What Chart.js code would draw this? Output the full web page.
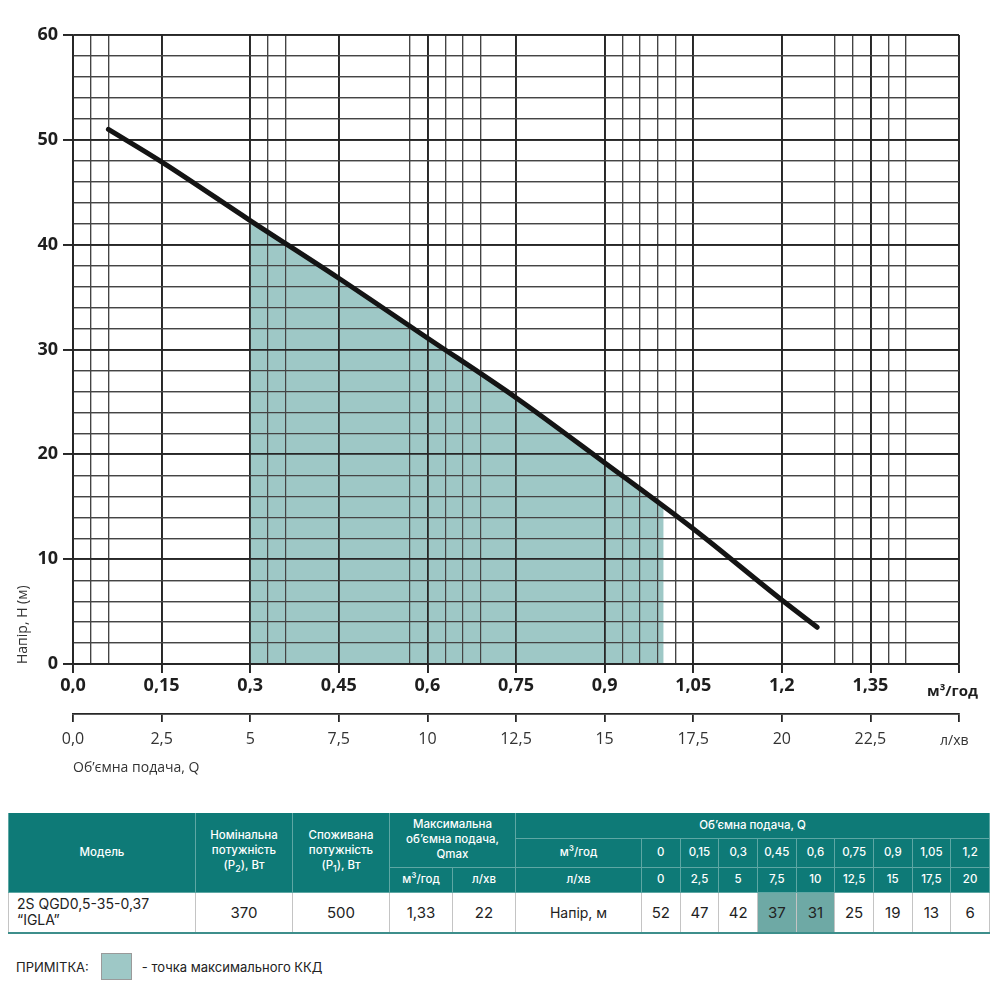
<!DOCTYPE html>
<html lang="uk">
<head>
<meta charset="utf-8">
<title>2S QGD0,5-35-0,37 IGLA</title>
<script src="https://cdn.jsdelivr.net/npm/chart.js@4.4.1/dist/chart.umd.min.js"></script>
<style>
  body { margin: 0; background: #fff; font-family: Inter, "Noto Sans", sans-serif; }
  #wrap { position: absolute; left: 0; top: 0; width: 1000px; height: 790px; }
  #specs {
    position: absolute; left: 8px; top: 813px; width: 982px;
    border-collapse: collapse; table-layout: fixed;
    border-bottom: 2px solid #3d8e8b;
  }
  #specs th {
    background: #0e7a77; color: #fff; font-weight: 500; font-size: 11.5px;
    line-height: 15px; text-align: center; padding: 0;
    border: 1px solid #5ea7a4; border-top: none;
  }
  #specs td {
    font-size: 15px; color: #222; text-align: center; padding: 0;
    border: 1px solid #c4c4c4; border-bottom: none;
  }
  #specs td.model { text-align: left; padding-left: 8px; font-size: 14px; line-height: 16px; }
  #specs td.label { font-size: 14px; }
  #specs td.hl { background: #6ea9a5; }
  #specs sub { font-size: 9px; }
  #note { position: absolute; left: 16px; top: 953px; height: 27px; font-size: 13px; color: #222;
          display: flex; align-items: center; }
  #note .box { width: 31px; height: 27px; background: #9ec8c6; border: 1px solid #9a9a9a;
               margin: 0 10px 0 12px; box-sizing: border-box; }
</style>
</head>
<body>
<div id="wrap"><canvas id="pumpChart"></canvas></div>
<table id="specs"></table>
<div id="note">ПРИМІТКА:<span class="box"></span>- точка максимального ККД</div>
<script>
// Крива напору (м³/год -> м)
const qCurve = [0.06, 0.15, 0.3, 0.45, 0.6, 0.75, 0.9, 1.05, 1.2, 1.26];
const hCurve = [51, 47.9, 42.3, 36.8, 31.1, 25.4, 19.2, 12.9, 6.1, 3.5];

// Зона максимального ККД
const qFill = [0.3, 0.45, 0.6, 0.75, 0.9, 1.0];
const hFill = [42.3, 36.8, 31.1, 25.4, 19.2, 15.0];

// Лінії сітки
const xGrid = [0, 0.03, 0.06, 0.15, 0.3, 0.33, 0.36, 0.45, 0.57, 0.6, 0.63, 0.66, 0.69, 0.75,
  0.9, 0.93, 0.96, 0.99, 1.02, 1.05, 1.2, 1.29, 1.32, 1.35, 1.38, 1.41, 1.5];
const yGrid = [0, 2, 4, 6, 8, 10, 12, 14, 16, 18, 20, 22, 24, 26, 28, 30,
  32, 34, 36, 38, 40, 42, 44, 46, 48, 50, 52, 54, 56, 58, 60];

// Таблиця
const tableM3 = ['0', '0,15', '0,3', '0,45', '0,6', '0,75', '0,9', '1,05', '1,2'];
const tableLmin = ['0', '2,5', '5', '7,5', '10', '12,5', '15', '17,5', '20'];
const tableHead = [52, 47, 42, 37, 31, 25, 19, 13, 6];
const tableBest = [3, 4];

const isMajorX = v => Math.abs(v / 0.15 - Math.round(v / 0.15)) < 1e-6;
const isMajorY = v => v % 10 === 0;
const fmt = v => v === 0 ? '0,0' : String(+v.toFixed(2)).replace('.', ',');
const tickOf = c => (c.tick ? c.tick.value : 0);

// сітку малюємо ще раз поверх заливки
const regrid = {
  id: 'regrid',
  afterDatasetDraw(chart, args) {
    if (args.index === 1) {
      chart.scales.x.drawGrid(chart.chartArea);
      chart.scales.y.drawGrid(chart.chartArea);
    }
  }
};

const units = {
  id: 'units',
  afterDraw(chart) {
    const { ctx, scales: { x, x2 } } = chart;
    ctx.save();
    ctx.textBaseline = 'middle';
    ctx.fillStyle = '#1e1e1e';
    ctx.font = 'bold 15px "Open Sans"';
    ctx.fillText('м³/год', x.right - 32, x.top + 28);
    ctx.fillStyle = '#333';
    ctx.font = '14px "Open Sans"';
    ctx.fillText('л/хв', x2.right - 19, x2.top + 27);
    ctx.restore();
  }
};

const ctx = document.getElementById('pumpChart').getContext('2d');
new Chart(ctx, {
  type: 'scatter',
  data: {
    datasets: [{
      data: qCurve.map((q, i) => ({ x: q, y: hCurve[i] })),
      showLine: true,
      borderColor: '#141414',
      borderWidth: 5,
      borderCapStyle: 'round',
      cubicInterpolationMode: 'monotone',
      pointRadius: 0,
      fill: false,
      order: 1
    }, {
      data: qFill.map((q, i) => ({ x: q, y: hFill[i] })),
      showLine: true,
      borderWidth: 0,
      backgroundColor: '#9ec8c6',
      cubicInterpolationMode: 'monotone',
      pointRadius: 0,
      fill: 'origin',
      order: 2
    }]
  },
  options: {
    responsive: true,
    maintainAspectRatio: false,
    animation: false,
    layout: { padding: { top: 35, right: 41, bottom: 14, left: 15 } },
    plugins: { legend: { display: false }, tooltip: { enabled: false } },
    scales: {
      x: {
        type: 'linear', position: 'bottom', weight: 0, min: 0, max: 1.5,
        afterBuildTicks: s => { s.ticks = xGrid.map(v => ({ value: v })); },
        afterFit: s => { s.height = 50; },
        ticks: {
          autoSkip: false, maxRotation: 0, padding: 2, color: '#1e1e1e',
          font: { family: 'Open Sans', size: 18, weight: 'bold' },
          callback: v => (isMajorX(v) && v < 1.5) ? fmt(v) : ''
        },
        grid: {
          color: c => isMajorX(tickOf(c)) ? '#262626' : '#444',
          lineWidth: c => isMajorX(tickOf(c)) ? 1.8 : 1.2,
          tickLength: 9,
          tickColor: c => isMajorX(tickOf(c)) ? '#262626' : 'rgba(0,0,0,0)'
        },
        border: { display: true, color: '#262626', width: 1.8 }
      },
      x2: {
        type: 'linear', position: 'bottom', weight: 1, min: 0, max: 25,
        afterFit: s => { s.height = 62; },
        ticks: {
          stepSize: 2.5, autoSkip: false, maxRotation: 0, padding: 8, color: '#333',
          font: { family: 'Open Sans', size: 16 },
          callback: v => v < 25 ? fmt(v) : ''
        },
        grid: { drawOnChartArea: false, tickLength: 8, color: '#262626', lineWidth: 1.8 },
        border: { display: true, color: '#262626', width: 1.8 },
        title: {
          display: true, text: 'Об’ємна подача, Q', align: 'start', color: '#333',
          font: { family: 'Open Sans', size: 14 }, padding: { top: 0, bottom: 0 }
        }
      },
      y: {
        type: 'linear', min: 0, max: 60,
        afterBuildTicks: s => { s.ticks = yGrid.map(v => ({ value: v })); },
        afterFit: s => { s.width = 58; },
        ticks: {
          autoSkip: false, padding: 5, color: '#1e1e1e',
          font: { family: 'Open Sans', size: 18, weight: 'bold' },
          callback: v => isMajorY(v) ? String(v) : ''
        },
        grid: {
          color: c => isMajorY(tickOf(c)) ? '#262626' : '#444',
          lineWidth: c => isMajorY(tickOf(c)) ? 1.8 : 1.2,
          tickLength: 10,
          tickColor: c => isMajorY(tickOf(c)) ? '#262626' : 'rgba(0,0,0,0)'
        },
        border: { display: true, color: '#262626', width: 1.8 },
        title: {
          display: true, text: 'Напір, Н (м)', align: 'start', color: '#333',
          font: { family: 'Open Sans', size: 14 }, padding: { top: 0, bottom: 0 }
        }
      }
    }
  },
  plugins: [regrid, units]
});

// 📋 Таблиця характеристик
const specs = document.getElementById('specs');
let html = '<colgroup><col style="width:187px"><col style="width:97px"><col style="width:97px">' +
  '<col style="width:63px"><col style="width:63px"><col style="width:126px">';
tableM3.forEach(() => { html += '<col>'; });
html += '</colgroup>';
html += '<tr style="height:25px">' +
  '<th rowspan="3">Модель</th>' +
  '<th rowspan="3">Номінальна<br>потужність<br>(P<sub>2</sub>), Вт</th>' +
  '<th rowspan="3">Споживана<br>потужність<br>(P<sub>1</sub>), Вт</th>' +
  '<th rowspan="2" colspan="2">Максимальна<br>об’ємна подача,<br>Qmax</th>' +
  '<th colspan="10">Об’ємна подача, Q</th></tr>';
html += '<tr style="height:29px"><th>м³/год</th>' + tableM3.map(v => `<th>${v}</th>`).join('') + '</tr>';
html += '<tr style="height:25px"><th>м³/год</th><th>л/хв</th><th>л/хв</th>' +
  tableLmin.map(v => `<th>${v}</th>`).join('') + '</tr>';
html += '<tr style="height:41px"><td class="model">2S QGD0,5-35-0,37<br>“IGLA”</td>' +
  '<td>370</td><td>500</td><td>1,33</td><td>22</td><td class="label">Напір, м</td>' +
  tableHead.map((v, i) => `<td${tableBest.includes(i) ? ' class="hl"' : ''}>${v}</td>`).join('') + '</tr>';
specs.innerHTML = html;
</script>
</body>
</html>
